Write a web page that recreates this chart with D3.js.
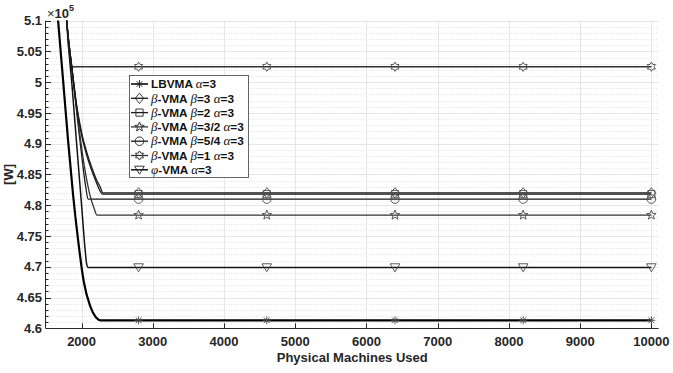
<!DOCTYPE html>
<html><head><meta charset="utf-8">
<script src="https://cdn.jsdelivr.net/npm/d3@7"></script>
<style>html,body{margin:0;padding:0;background:#fff;} svg{display:block;}</style>
</head><body>
<svg id="chart" width="673" height="373"></svg>
<script>
// Total power (in units of 10^5 W) against the number of physical machines used
const xTicks = [2000, 3000, 4000, 5000, 6000, 7000, 8000, 9000, 10000];
const yTicks = [4.6, 4.65, 4.7, 4.75, 4.8, 4.85, 4.9, 4.95, 5, 5.05, 5.1];
const markerPMs = [2800, 4600, 6400, 8200, 10000];

// [physical machines, power] pairs for each allocation scheme
const lbvma   = [[1600,5.21],[1670,5.10],[1740,5.003],[1810,4.905],[1880,4.817],[1950,4.744],[2030,4.676],[2120,4.636],[2200,4.618],[2270,4.613],[10000,4.613]];
const beta3   = [[1740,5.19],[1790,5.10],[1860,5.028],[1930,4.963],[2000,4.918],[2070,4.887],[2140,4.862],[2210,4.841],[2260,4.830],[2300,4.820],[10000,4.820]];
const beta2   = [[1740,5.19],[1790,5.10],[1860,5.026],[1930,4.960],[2000,4.914],[2070,4.882],[2140,4.857],[2210,4.836],[2255,4.824],[2290,4.818],[10000,4.818]];
const beta32  = [[1740,5.18],[1790,5.10],[1865,5.02],[1950,4.938],[2035,4.866],[2120,4.815],[2175,4.795],[2215,4.784],[10000,4.784]];
const beta54  = [[1740,5.18],[1790,5.10],[1865,5.02],[1935,4.947],[2005,4.877],[2060,4.828],[2090,4.810],[10000,4.810]];
const beta1   = [[1740,5.16],[1790,5.10],[1860,5.025],[10000,5.025]];
const phiVma  = [[1740,5.23],[1790,5.10],[1865,4.995],[1935,4.893],[2005,4.792],[2050,4.727],[2070,4.705],[2090,4.699],[10000,4.699]];

const legendLabels = [
  "LBVMA α=3",
  "β-VMA β=3 α=3",
  "β-VMA β=2 α=3",
  "β-VMA β=3/2 α=3",
  "β-VMA β=5/4 α=3",
  "β-VMA β=1 α=3",
  "φ-VMA α=3"
];

const series = [
  {data: lbvma,  marker: "asterisk", color: "#000",    width: 2.2},
  {data: beta3,  marker: "diamond",  color: "#1a1a1a", width: 1.3},
  {data: beta2,  marker: "square",   color: "#1a1a1a", width: 1.3},
  {data: beta32, marker: "pentagram",color: "#333",    width: 1.3},
  {data: beta54, marker: "circle",   color: "#1a1a1a", width: 1.3},
  {data: beta1,  marker: "hexagram", color: "#333",    width: 1.3},
  {data: phiVma, marker: "triangle", color: "#111",    width: 1.5}
].map((s, i) => Object.assign(s, {label: legendLabels[i]}));

const svg = d3.select("#chart");
const plotL = 46, plotR = 658.5, plotT = 20.6, plotB = 328.3;
const axisColor = "#262626";
const sans = "'Liberation Sans', Arial, sans-serif";
const serif = "'Liberation Serif', 'Times New Roman', serif";

const x = d3.scaleLinear().domain([1500, 10100]).range([plotL, plotR]);
const y = d3.scaleLinear().domain([4.6, 5.1]).range([plotB, plotT]);

// grid: minor dotted every 0.01, major solid at ticks
const minorY = d3.range(4.61, 5.1, 0.01).filter(v => Math.abs(v * 20 - Math.round(v * 20)) > 1e-6);
const grid = svg.append("g");
grid.selectAll(".ymin").data(minorY).join("line")
  .attr("x1", plotL).attr("x2", plotR)
  .attr("y1", d => Math.round(y(d)) + 0.5).attr("y2", d => Math.round(y(d)) + 0.5)
  .attr("stroke", "#e3e3e3").attr("stroke-dasharray", "1,1.5");
grid.selectAll(".ymaj").data(yTicks).join("line")
  .attr("x1", plotL).attr("x2", plotR)
  .attr("y1", d => Math.round(y(d)) + 0.5).attr("y2", d => Math.round(y(d)) + 0.5)
  .attr("stroke", "#e6e6e6");
grid.selectAll(".xmaj").data(xTicks).join("line")
  .attr("y1", plotT).attr("y2", plotB)
  .attr("x1", d => Math.round(x(d)) + 0.5).attr("x2", d => Math.round(x(d)) + 0.5)
  .attr("stroke", "#e6e6e6");

svg.append("clipPath").attr("id", "plotClip").append("rect")
  .attr("x", plotL).attr("y", plotT).attr("width", plotR - plotL).attr("height", plotB - plotT);

const line = d3.line().x(d => x(d[0])).y(d => y(d[1])).curve(d3.curveMonotoneX);
const lines = svg.append("g").attr("clip-path", "url(#plotClip)");
series.slice().reverse().forEach(s => {
  lines.append("path").attr("d", line(s.data)).attr("fill", "none")
    .attr("stroke", s.color).attr("stroke-width", s.width).attr("stroke-linejoin", "round");
});

// marker shapes
function starPath(n, ro, ri) {
  const pts = [];
  for (let k = 0; k < 2 * n; k++) {
    const r = k % 2 === 0 ? ro : ri;
    const a = -Math.PI / 2 + k * Math.PI / n;
    pts.push([r * Math.cos(a), r * Math.sin(a)]);
  }
  return "M" + pts.map(p => p[0].toFixed(2) + "," + p[1].toFixed(2)).join("L") + "Z";
}
const markerPaths = {
  asterisk: "M-4,0H4M0,-4V4M-2.9,-2.9L2.9,2.9M-2.9,2.9L2.9,-2.9",
  diamond: "M0,-5.2L4.2,0L0,5.2L-4.2,0Z",
  square: "M-3.6,-3.6H3.6V3.6H-3.6Z",
  pentagram: starPath(5, 5, 2.1),
  circle: "M4.3,0A4.3,4.3 0 1,1 -4.3,0A4.3,4.3 0 1,1 4.3,0Z",
  hexagram: starPath(6, 4.6, 2.7),
  triangle: "M-4.8,-3.6L4.8,-3.6L0,4.4Z"
};
function valueAt(data, px) {
  for (let i = 1; i < data.length; i++) {
    if (px <= data[i][0]) {
      const [x0, y0] = data[i - 1], [x1, y1] = data[i];
      return y0 + (y1 - y0) * (px - x0) / (x1 - x0);
    }
  }
  return data[data.length - 1][1];
}
function drawMarker(g, type, cx, cy, color) {
  g.append("path").attr("d", markerPaths[type])
    .attr("transform", `translate(${cx},${cy})`)
    .attr("fill", "none").attr("stroke", color).attr("stroke-width", 0.9);
}
const marks = svg.append("g");
series.forEach(s => {
  markerPMs.forEach(pm => drawMarker(marks, s.marker, x(pm), y(valueAt(s.data, pm)), "#4a4a4a"));
});

// axes
const ax = svg.append("g").attr("stroke", axisColor);
ax.append("line").attr("x1", plotL - 0.5).attr("x2", plotR).attr("y1", Math.round(plotB) + 0.5).attr("y2", Math.round(plotB) + 0.5);
ax.append("line").attr("x1", plotL - 0.5).attr("x2", plotL - 0.5).attr("y1", plotT).attr("y2", Math.round(plotB) + 0.5);
xTicks.forEach(t => {
  const px = Math.round(x(t)) + 0.5;
  ax.append("line").attr("x1", px).attr("x2", px).attr("y1", plotB).attr("y2", plotB - 5);
});
yTicks.forEach(t => {
  const py = Math.round(y(t)) + 0.5;
  ax.append("line").attr("x1", plotL).attr("x2", plotL + 5).attr("y1", py).attr("y2", py);
});
minorY.forEach(t => {
  const py = Math.round(y(t)) + 0.5;
  ax.append("line").attr("x1", plotL).attr("x2", plotL + 2.5).attr("y1", py).attr("y2", py);
});

const txt = svg.append("g").attr("fill", axisColor).attr("font-family", sans).attr("font-weight", "bold").attr("font-size", 13);
xTicks.forEach(t => {
  txt.append("text").attr("x", x(t)).attr("y", 346).attr("text-anchor", "middle").text(t);
});
yTicks.forEach(t => {
  txt.append("text").attr("x", 42).attr("y", y(t) + 4.6).attr("text-anchor", "end").text(String(+t.toFixed(2)));
});
txt.append("text").attr("x", (plotL + plotR) / 2).attr("y", 362).attr("text-anchor", "middle").text("Physical Machines Used");
txt.append("text").attr("transform", `translate(13,${(plotT + plotB) / 2}) rotate(-90)`).attr("text-anchor", "middle").text("[W]");
const expo = txt.append("text").attr("x", 47).attr("y", 18);
expo.append("tspan").attr("font-weight", "normal").text("×");
expo.append("tspan").text("10");
expo.append("tspan").attr("font-size", 9).attr("dy", -7).text("5");

// legend
const lg = svg.append("g");
const lx = 129, ly = 75, lw = 119, lh = 102, rowH = 14.3, row0 = 84;
lg.append("rect").attr("x", lx + 0.5).attr("y", ly + 0.5).attr("width", lw).attr("height", lh)
  .attr("fill", "#fff").attr("stroke", "#555").attr("stroke-width", 0.9);
series.forEach((s, i) => {
  const ry = row0 + i * rowH;
  lg.append("line").attr("x1", 131).attr("x2", 148).attr("y1", ry).attr("y2", ry)
    .attr("stroke", s.color).attr("stroke-width", Math.min(s.width, 1.5));
  drawMarker(lg, s.marker, 139.5, ry, "#222");
  const t = lg.append("text").attr("x", 151).attr("y", ry + 4.2).attr("fill", "#111");
  s.label.split(/([αβφ])/).filter(p => p.length).forEach(p => {
    const greek = /^[αβφ]$/.test(p);
    t.append("tspan")
      .attr("font-family", greek ? serif : sans)
      .attr("font-style", greek ? "italic" : "normal")
      .attr("font-weight", greek ? "normal" : "bold")
      .attr("font-size", greek ? 13 : 11.8)
      .text(p);
  });
});
</script>
</body></html>
